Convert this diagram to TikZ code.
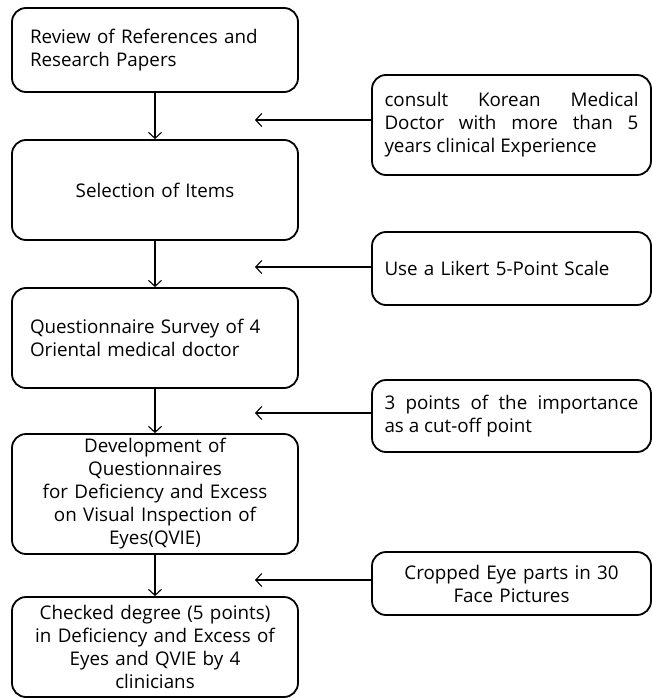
\documentclass[tikz,border=0pt]{standalone}
\usepackage{fontspec}
\setmainfont{Open Sans}
\usetikzlibrary{arrows.meta,calc}
\begin{document}
\begin{tikzpicture}[x=1pt,y=-1pt,
  box/.style={draw,line width=1.8pt,rounded corners=14pt,inner sep=0pt,font=\fontsize{18.8}{23}\selectfont},
  lbox/.style={box,minimum width=286pt,text width=250pt},
  rbox/.style={box,minimum width=279pt,text width=254pt},
  arr/.style={line width=1.1pt,-{Straight Barb[length=6pt,width=13pt,line width=1.1pt]}}]
\useasboundingbox (0,0) rectangle (652,698);
\node[lbox,minimum height=84pt,align=left] (b1) at (155,50) {Review of References and\\Research Papers};
\node[lbox,minimum height=100pt,align=center] (b2) at (155,190) {Selection of Items};
\node[lbox,minimum height=100pt,align=left] (b3) at (155,338) {Questionnaire Survey of 4\\Oriental medical doctor};
\node[lbox,minimum height=120pt,align=center] (b4) at (155,494) {Development of\\Questionnaires\\for Deficiency and Excess\\on Visual Inspection of\\Eyes(QVIE)};
\node[lbox,minimum height=100pt,align=center] (b5) at (155,647) {Checked degree (5 points)\\in Deficiency and Excess of\\Eyes and QVIE by 4\\clinicians};
\node[rbox,minimum height=100pt,align=justify] (r1) at (511.5,125) {consult Korean Medical\linebreak Doctor with more than 5\linebreak years clinical Experience};
\node[rbox,minimum height=73pt,align=left] (r2) at (511.5,268.5) {Use a Likert 5-Point Scale};
\node[rbox,minimum height=72pt,align=justify] (r3) at (511.5,416) {3 points of the importance\linebreak as a cut-off point};
\node[rbox,minimum height=63pt,align=center] (r4) at (511.5,583.5) {Cropped Eye parts in 30\\Face Pictures};
\coordinate (a1) at (255,120);
\coordinate (a2) at (255,267);
\coordinate (a3) at (255,413);
\coordinate (a4) at (255,580);
\draw[arr] (b1) -- (b2);
\draw[arr] (b2) -- (b3);
\draw[arr] (b3) -- (b4);
\draw[arr] (b4) -- (b5);
\draw[arr] (r1.west |- a1) -- (a1);
\draw[arr] (r2.west |- a2) -- (a2);
\draw[arr] (r3.west |- a3) -- (a3);
\draw[arr] (r4.west |- a4) -- (a4);
\end{tikzpicture}
\end{document}
